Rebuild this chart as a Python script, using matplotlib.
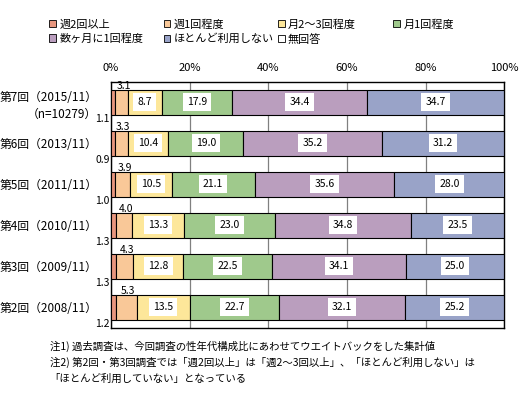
import numpy as np
import matplotlib
matplotlib.use("Agg")
import matplotlib.pyplot as plt
from matplotlib.patches import Patch

plt.rcParams['font.family'] = ['Noto Sans CJK JP', 'DejaVu Sans']

# 凡例と系列
categories = ['週2回以上', '週1回程度', '月2～3回程度', '月1回程度',
              '数ヶ月に1回程度', 'ほとんど利用しない', '無回答']
colors = ['#E8967E', '#F9C898', '#FDE79A', '#9FC98C', '#BA9EBE', '#99A3C8', '#FFFFFF']

rows = ['第7回（2015/11）\n（n=10279）', '第6回（2013/11）', '第5回（2011/11）',
        '第4回（2010/11）', '第3回（2009/11）', '第2回（2008/11）']

v_week2 = [1.1, 0.9, 1.0, 1.3, 1.3, 1.2]
v_week1 = [3.1, 3.3, 3.9, 4.0, 4.3, 5.3]
v_month23 = [8.7, 10.4, 10.5, 13.3, 12.8, 13.5]
v_month1 = [17.9, 19.0, 21.1, 23.0, 22.5, 22.7]
v_months = [34.4, 35.2, 35.6, 34.8, 34.1, 32.1]
v_rarely = [34.7, 31.2, 28.0, 23.5, 25.0, 25.2]
v_none = [0.1, 0.0, 0.0, 0.1, 0.0, 0.0]

series = [v_week2, v_week1, v_month23, v_month1, v_months, v_rarely, v_none]

fig = plt.figure(figsize=(5.29, 3.93), dpi=100)
ax = fig.add_axes([0.21, 0.166, 0.743, 0.626])

y = np.arange(len(rows))
left = np.zeros(len(rows))
for vals, c in zip(series, colors):
    ax.barh(y, vals, left=left, height=0.6, color=c, edgecolor='black', linewidth=0.8, zorder=3)
    left += np.array(vals)

# 数値ラベル
for i in range(len(rows)):
    ax.text(-0.3, i + 0.42, f'{v_week2[i]:.1f}', ha='right', va='center', fontsize=7.5)
    ax.text(v_week2[i] + v_week1[i] / 2 + 0.5, i - 0.4, f'{v_week1[i]:.1f}', ha='center', va='center', fontsize=7.5)
    start = v_week2[i] + v_week1[i]
    for vals in [v_month23, v_month1, v_months, v_rarely]:
        ax.text(start + vals[i] / 2, i, f'{vals[i]:.1f}', ha='center', va='center', fontsize=7.5,
                bbox=dict(facecolor='white', edgecolor='none', pad=3), zorder=4)
        start += vals[i]

ax.set_xlim(0, 100)
ax.set_ylim(len(rows) - 0.5, -0.5)
ax.set_xticks([0, 20, 40, 60, 80, 100])
ax.set_xticklabels(['0%', '20%', '40%', '60%', '80%', '100%'], fontsize=8)
ax.xaxis.tick_top()
ax.tick_params(axis='x', length=0, pad=6)
ax.set_yticks(y)
ax.set_yticklabels(rows, fontsize=8.5, linespacing=1.4)
ax.tick_params(axis='y', length=0, pad=10)
ax.grid(axis='x', color='#808080', linewidth=0.9, zorder=0)
for s in ax.spines.values():
    s.set_linewidth(1.0)

# 凡例（4列、行方向に並べる）
col_x = [0.085, 0.301, 0.517, 0.735]
for j in range(4):
    idx = [k for k in (j, j + 4) if k < len(categories)]
    handles = [Patch(facecolor=colors[k], edgecolor='black', linewidth=0.6) for k in idx]
    fig.legend(handles, [categories[k] for k in idx], loc='upper left', bbox_to_anchor=(col_x[j], 0.962),
               frameon=False, fontsize=8, handlelength=0.6, handleheight=0.6, handletextpad=0.3,
               labelspacing=0.35, borderaxespad=0)

notes = ['注1) 過去調査は、今回調査の性年代構成比にあわせてウエイトバックをした集計値',
         '注2) 第2回・第3回調査では「週2回以上」は「週2～3回以上」、「ほとんど利用しない」は',
         '「ほとんど利用していない」となっている']
for k, t in enumerate(notes):
    fig.text(0.094, 0.118 - k * 0.041, t, fontsize=7.5, va='center')

fig.savefig('out.png', dpi=100)
